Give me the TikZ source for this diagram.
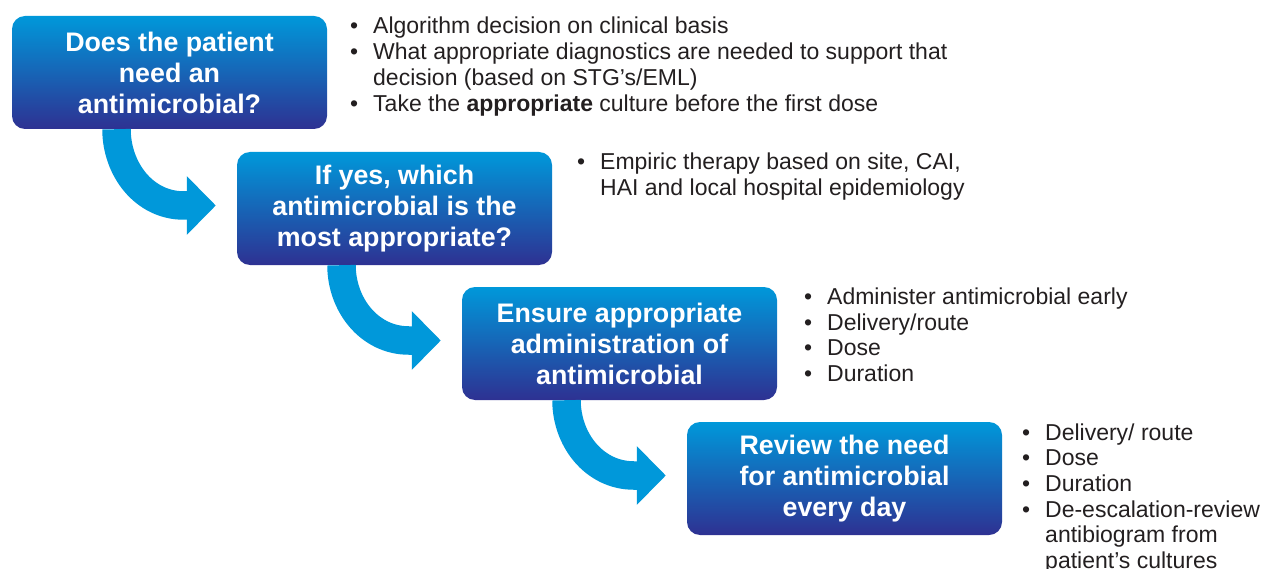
\documentclass[tikz,border=0pt]{standalone}
\usepackage{fontspec}
\setmainfont{Liberation Sans}
\definecolor{topblue}{RGB}{0, 152, 218}
\definecolor{midblue}{RGB}{14, 84, 164}
\definecolor{botblue}{RGB}{46, 49, 146}
\definecolor{flowblue}{RGB}{0, 152, 218}
\definecolor{inkgrey}{RGB}{35, 31, 32}
\usepackage{tikz}
\usetikzlibrary{arrows.meta, positioning, calc}

\begin{document}
\begin{tikzpicture}[x=1pt, y=1pt,
  stepbox/.style={rounded corners=13pt, minimum width=315pt, minimum height=113pt,
    top color=topblue, middle color=midblue, bottom color=botblue, text=white,
    align=center, inner sep=0pt, font=\fontsize{26.8}{31}\selectfont\bfseries},
  notes/.style={anchor=base west, inner sep=0pt, text=inkgrey, font=\fontsize{23}{25.7}\selectfont},
  flow/.style={line width=28.5pt, flowblue, -{Triangle[length=29pt, width=57pt]}}]
  \useasboundingbox (0,0) rectangle (1265,-569);

  % Step boxes
  \node[stepbox] (q1) at (169.5, -72.5) {Does the patient\\need an\\antimicrobial?};
  \node[stepbox] (q2) at (394.5, -208.5) {If yes, which\\antimicrobial is the\\most appropriate?};
  \node[stepbox] (q3) at (619.5, -343.5) {Ensure appropriate\\administration of\\antimicrobial};
  \node[stepbox] (q4) at (844.5, -478.5) {Review the need\\for antimicrobial\\every day};

  % Curved arrows
  \draw[flow] ([xshift=-53pt]q1.south) to[out=-90, in=180] ([xshift=-53pt, yshift=3pt]q2.west) -- ([xshift=-21pt, yshift=3pt]q2.west);
  \draw[flow] ([xshift=-53pt]q2.south) to[out=-90, in=180] ([xshift=-53pt, yshift=3pt]q3.west) -- ([xshift=-21pt, yshift=3pt]q3.west);
  \draw[flow] ([xshift=-53pt]q3.south) to[out=-90, in=180] ([xshift=-53pt, yshift=3pt]q4.west) -- ([xshift=-21pt, yshift=3pt]q4.west);

  % Bullet notes
  \node[notes] (n1) at (350, -34) {\begin{tabular}[t]{@{}p{23pt}@{}l@{}}
    \textbullet & Algorithm decision on clinical basis\\
    \textbullet & What appropriate diagnostics are needed to support that\\
     & decision (based on STG’s/EML)\\
    \textbullet & Take the \textbf{appropriate} culture before the first dose
  \end{tabular}};
  \node[notes] (n2) at (577, -170) {\begin{tabular}[t]{@{}p{23pt}@{}l@{}}
    \textbullet & Empiric therapy based on site, CAI,\\
     & HAI and local hospital epidemiology
  \end{tabular}};
  \node[notes] (n3) at (804, -304.5) {\begin{tabular}[t]{@{}p{23pt}@{}l@{}}
    \textbullet & Administer antimicrobial early\\
    \textbullet & Delivery/route\\
    \textbullet & Dose\\
    \textbullet & Duration
  \end{tabular}};
  \node[notes] (n4) at (1022, -440) {\begin{tabular}[t]{@{}p{23pt}@{}l@{}}
    \textbullet & Delivery/ route\\
    \textbullet & Dose\\
    \textbullet & Duration\\
    \textbullet & De-escalation-review\\
     & antibiogram from\\
     & patient’s cultures
  \end{tabular}};
\end{tikzpicture}
\end{document}
